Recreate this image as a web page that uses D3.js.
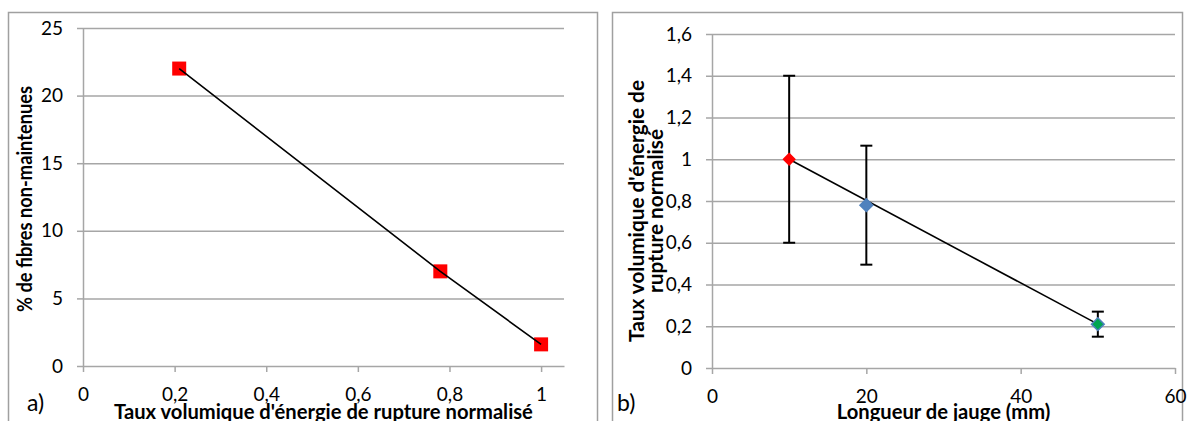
<!DOCTYPE html>
<html><head><meta charset="utf-8">
<script src="https://cdn.jsdelivr.net/npm/d3@7"></script>
<style>
html,body{margin:0;padding:0;background:#fff;}
svg{display:block;font-family:Lato, "Open Sans", sans-serif;}
</style></head>
<body>
<svg id="c" width="1190" height="421"></svg>
<script>
// ---- Panel a) data ----
const aX = [0.21, 0.78, 1.0];
const aY = [22, 7, 1.6];
const aXTicks = [0, 0.2, 0.4, 0.6, 0.8, 1];
const aYTicks = [0, 5, 10, 15, 20, 25];
const aXTitle = "Taux volumique d'énergie de rupture normalisé";
const aYTitle = "% de fibres non-maintenues";

// ---- Panel b) data ----
const bX = [10, 20, 50];
const bY = [1.0, 0.78, 0.21];
const bErrHigh = [1.4, 1.065, 0.27];
const bErrLow = [0.6, 0.495, 0.15];
const bFill = ["#FF0000", "#4F81BD", "#00A651"];
const bStroke = ["#FF0000", "#4F81BD", "#4F81BD"];
const bXTicks = [0, 20, 40, 60];
const bYTicks = [0, 0.2, 0.4, 0.6, 0.8, 1, 1.2, 1.4, 1.6];
const bXTitle = "Longueur de jauge (mm)";
const bYTitle = ["Taux volumique d'énergie de", "rupture normalisé"];

const svg = d3.select("#c");
const fmt = d => String(d).replace(".", ",");
const GRID = "#a6a6a6";
const FS = 19;

function fit(sel, target, base) {
  sel.attr("font-size", base);
  const len = sel.node().getComputedTextLength();
  const fs = base * target / len;
  sel.attr("font-size", fs);
  return fs;
}
function squeeze(sel, target) {
  sel.attr("textLength", target).attr("lengthAdjust", "spacingAndGlyphs");
}

svg.append("rect").attr("x", 8.5).attr("y", 12.5).attr("width", 589).attr("height", 420)
  .attr("fill", "none").attr("stroke", "#a0a0a0").attr("stroke-width", 1.5);
svg.append("rect").attr("x", 612.5).attr("y", 12.5).attr("width", 570).attr("height", 420)
  .attr("fill", "none").attr("stroke", "#a0a0a0").attr("stroke-width", 1.5);

function styleAxis(g) {
  g.selectAll("path.domain").attr("stroke", GRID).attr("stroke-width", 1.5);
  g.selectAll(".tick line").attr("stroke", GRID).attr("stroke-width", 1.5);
  g.selectAll("text").attr("font-size", FS).attr("fill", "#000").attr("font-family", "Lato");
}

function panel(opt) {
  const { xs, ys, xTicks, yTicks } = opt;
  const [x0, x1] = xs.range();
  const [y0] = ys.range();
  const g = svg.append("g");
  g.append("g").attr("transform", `translate(${x0},0)`)
    .call(d3.axisLeft(ys).tickValues(yTicks.filter(v => v !== 0)).tickSize(-(x1 - x0)).tickFormat(""))
    .call(s => { s.select(".domain").remove(); s.selectAll("line").attr("stroke", GRID).attr("stroke-width", 1.5); });
  const ya = g.append("g").attr("transform", `translate(${x0},0)`)
    .call(d3.axisLeft(ys).tickValues(yTicks).tickSize(6).tickSizeOuter(0).tickPadding(14).tickFormat(fmt));
  styleAxis(ya);
  const xa = g.append("g").attr("transform", `translate(0,${y0})`)
    .call(d3.axisBottom(xs).tickValues(xTicks).tickSize(6).tickSizeOuter(0).tickFormat(fmt));
  styleAxis(xa);
  xa.selectAll("text").attr("y", 35).attr("dy", 0);
  return g;
}

// ---------- Panel a ----------
const xa = d3.scaleLinear().domain([0, 1.05]).range([83, 564]);
const ya = d3.scaleLinear().domain([0, 25]).range([366, 28]);
const ga = panel({ xs: xa, ys: ya, xTicks: aXTicks, yTicks: aYTicks });
const ptsA = aX.map((x, i) => [xa(x), ya(aY[i])]);
ga.selectAll("rect.m").data(ptsA).enter().append("rect")
  .attr("x", d => d[0] - 7).attr("y", d => d[1] - 7).attr("width", 14).attr("height", 14)
  .attr("fill", "#FF0000");
ga.append("path").attr("d", d3.line()(ptsA)).attr("fill", "none").attr("stroke", "#000").attr("stroke-width", 1.6);
const axT = ga.append("text").attr("x", (83 + 564) / 2).attr("y", 419).attr("text-anchor", "middle")
  .attr("font-weight", "bold").text(aXTitle);
const titleFS = fit(axT, 419, 18);
const ayT = ga.append("text").attr("transform", `translate(32,${(28 + 366) / 2 + 2}) rotate(-90)`).attr("text-anchor", "middle")
  .attr("font-weight", "bold").attr("font-size", titleFS).text(aYTitle);
squeeze(ayT, 226);
ga.append("text").attr("x", 27).attr("y", 411).attr("font-size", 23).text("a)");

// ---------- Panel b ----------
const xb = d3.scaleLinear().domain([0, 60]).range([712, 1175]);
const yb = d3.scaleLinear().domain([0, 1.6]).range([368, 34]);
const gb = panel({ xs: xb, ys: yb, xTicks: bXTicks, yTicks: bYTicks });
const first = 0, last = bX.length - 1;
gb.append("line").attr("x1", xb(bX[first])).attr("y1", yb(bY[first]))
  .attr("x2", xb(bX[last])).attr("y2", yb(bY[last])).attr("stroke", "#000").attr("stroke-width", 1.6);
bX.forEach((x, i) => {
  const cx = xb(x);
  const eb = gb.append("g").attr("stroke", "#000").attr("stroke-width", 2);
  eb.append("line").attr("x1", cx).attr("x2", cx).attr("y1", yb(bErrHigh[i])).attr("y2", yb(bErrLow[i]));
  eb.append("line").attr("x1", cx - 6).attr("x2", cx + 6).attr("y1", yb(bErrHigh[i])).attr("y2", yb(bErrHigh[i]));
  eb.append("line").attr("x1", cx - 6).attr("x2", cx + 6).attr("y1", yb(bErrLow[i])).attr("y2", yb(bErrLow[i]));
});
const sides = [8, 9, 9];
bX.forEach((x, i) => {
  gb.append("path").attr("transform", `translate(${xb(x)},${yb(bY[i])}) rotate(45)`)
    .attr("d", d3.symbol(d3.symbolSquare, sides[i] * sides[i])())
    .attr("fill", bFill[i]).attr("stroke", bStroke[i]).attr("stroke-width", 1.5);
});
gb.append("text").attr("x", (712 + 1175) / 2).attr("y", 419).attr("text-anchor", "middle")
  .attr("font-weight", "bold").attr("font-size", titleFS).text(bXTitle);
const yt = gb.append("text").attr("transform", `translate(644,${(34 + 368) / 2 + 10}) rotate(-90)`)
  .attr("text-anchor", "middle").attr("font-weight", "bold").attr("font-size", titleFS);
const l1 = yt.append("tspan").attr("x", 0).attr("y", 0).text(bYTitle[0]);
const l2 = yt.append("tspan").attr("x", 0).attr("y", 19).text(bYTitle[1]);
const ratio = 262 / l1.node().getComputedTextLength();
const l2len = l2.node().getComputedTextLength() * ratio;
squeeze(l1, 262);
squeeze(l2, l2len);
gb.append("text").attr("x", 617).attr("y", 411).attr("font-size", 23).text("b)");
</script>
</body></html>
